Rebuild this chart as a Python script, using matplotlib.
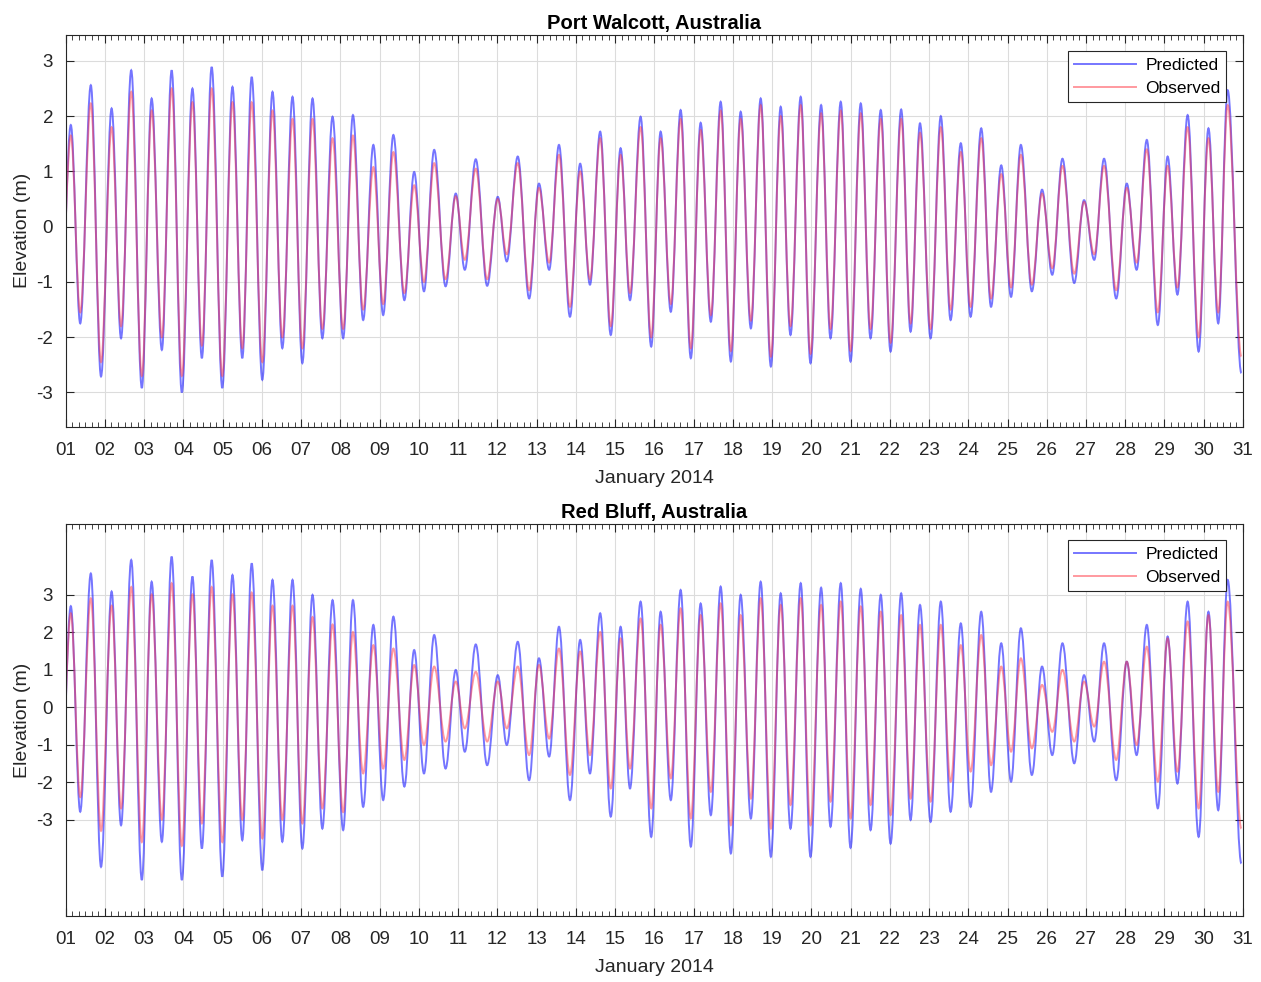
import datetime
import numpy as np
import matplotlib
matplotlib.use("Agg")
from matplotlib import pyplot as plt
import matplotlib.dates as mdates
from matplotlib.path import Path
from matplotlib.patches import PathPatch
from matplotlib.lines import Line2D

plt.rcParams['font.family'] = ['Liberation Sans', 'DejaVu Sans']
plt.rcParams['axes.unicode_minus'] = False

# times of high / low water, days after 2014-01-01 00:00
peak_times = [-0.12, 0.13, 0.37, 0.64, 0.90, 1.17, 1.41, 1.67, 1.94, 2.19, 2.45,
              2.70, 2.96, 3.23, 3.47, 3.72, 3.99, 4.25, 4.50, 4.74, 5.01,
              5.27, 5.52, 5.78, 6.03, 6.29, 6.54, 6.80, 7.07, 7.32, 7.58,
              7.84, 8.09, 8.35, 8.63, 8.88, 9.13, 9.39, 9.68, 9.94, 10.17,
              10.45, 10.74, 11.01, 11.24, 11.52, 11.81, 12.06, 12.32, 12.57, 12.85,
              13.11, 13.36, 13.62, 13.89, 14.14, 14.38, 14.65, 14.92, 15.16, 15.42,
              15.67, 15.93, 16.18, 16.44, 16.69, 16.95, 17.20, 17.46, 17.71, 17.97,
              18.22, 18.47, 18.73, 18.98, 19.25, 19.49, 19.75, 20.00, 20.26, 20.51,
              20.77, 21.02, 21.29, 21.53, 21.77, 22.04, 22.30, 22.55, 22.81, 23.06,
              23.33, 23.58, 23.84, 24.09, 24.34, 24.62, 24.88, 25.14, 25.40, 25.70,
              25.95, 26.21, 26.46, 26.77, 27.04, 27.29, 27.55, 27.83, 28.08, 28.33,
              28.59, 28.87, 29.12, 29.37, 29.61, 29.96]

# Port Walcott elevations (m) at those times
pw_pred = [-1.50, 1.84, -1.75, 2.56, -2.71, 2.14, -2.02, 2.83, -2.92, 2.32, -2.23,
           2.83, -3.00, 2.50, -2.38, 2.89, -2.92, 2.53, -2.38, 2.71, -2.77,
           2.44, -2.20, 2.35, -2.47, 2.32, -2.02, 1.99, -2.02, 2.02, -1.69,
           1.48, -1.60, 1.66, -1.33, 0.99, -1.17, 1.39, -1.08, 0.60, -0.78,
           1.22, -1.07, 0.54, -0.63, 1.27, -1.30, 0.78, -0.78, 1.48, -1.63,
           1.14, -1.05, 1.72, -1.96, 1.42, -1.33, 1.99, -2.17, 1.72, -1.54,
           2.11, -2.38, 1.88, -1.72, 2.26, -2.44, 2.08, -1.84, 2.32, -2.53,
           2.17, -1.96, 2.35, -2.47, 2.20, -2.02, 2.26, -2.44, 2.23, -2.02,
           2.11, -2.26, 2.12, -1.90, 1.87, -2.02, 2.00, -1.69, 1.51, -1.63,
           1.78, -1.45, 1.11, -1.27, 1.48, -1.17, 0.67, -0.87, 1.23, -1.02,
           0.48, -0.60, 1.23, -1.30, 0.78, -0.78, 1.57, -1.78, 1.27, -1.23,
           2.02, -2.26, 1.78, -1.75, 2.47, -2.65]
pw_obs = [-1.30, 1.65, -1.55, 2.23, -2.45, 1.80, -1.80, 2.44, -2.70, 2.10, -2.00,
          2.50, -2.70, 2.25, -2.15, 2.50, -2.70, 2.25, -2.20, 2.25, -2.45,
          2.10, -2.00, 1.95, -2.20, 1.95, -1.85, 1.60, -1.85, 1.65, -1.50,
          1.08, -1.40, 1.35, -1.20, 0.75, -1.00, 1.15, -0.95, 0.55, -0.60,
          1.05, -0.95, 0.50, -0.50, 1.15, -1.15, 0.70, -0.65, 1.30, -1.45,
          1.00, -0.95, 1.60, -1.80, 1.30, -1.20, 1.80, -2.00, 1.60, -1.40,
          1.95, -2.20, 1.75, -1.60, 2.10, -2.25, 1.95, -1.70, 2.20, -2.35,
          2.00, -1.80, 2.20, -2.30, 2.05, -1.85, 2.10, -2.25, 2.05, -1.85,
          1.95, -2.10, 1.95, -1.75, 1.70, -1.85, 1.80, -1.50, 1.35, -1.45,
          1.60, -1.30, 0.95, -1.10, 1.30, -1.05, 0.60, -0.75, 1.10, -0.85,
          0.45, -0.50, 1.10, -1.15, 0.70, -0.65, 1.40, -1.55, 1.10, -1.10,
          1.80, -2.00, 1.60, -1.55, 2.20, -2.35]

# Red Bluff elevations (m)
rb_pred = [-2.30, 2.69, -2.79, 3.56, -4.26, 3.08, -3.15, 3.92, -4.61, 3.34, -3.59,
           4.01, -4.61, 3.48, -3.77, 3.92, -4.52, 3.52, -3.55, 3.83, -4.35,
           3.39, -3.59, 3.39, -3.77, 2.99, -3.24, 2.85, -3.28, 2.85, -2.66,
           2.19, -2.48, 2.41, -2.12, 1.52, -1.77, 1.92, -1.64, 0.99, -1.19,
           1.67, -1.55, 0.85, -1.01, 1.74, -1.95, 1.30, -1.32, 2.14, -2.48,
           1.79, -1.77, 2.50, -2.92, 2.14, -2.17, 2.81, -3.46, 2.54, -2.48,
           3.12, -3.72, 2.76, -2.88, 3.21, -3.90, 2.99, -2.97, 3.34, -3.99,
           3.03, -3.24, 3.30, -3.99, 3.18, -3.19, 3.30, -3.75, 3.15, -3.28,
           2.99, -3.64, 3.03, -3.01, 2.72, -3.06, 2.81, -2.79, 2.23, -2.66,
           2.54, -2.26, 1.70, -1.99, 2.10, -1.81, 1.08, -1.28, 1.70, -1.50,
           0.85, -0.92, 1.70, -1.95, 1.21, -1.28, 2.19, -2.70, 1.88, -2.04,
           2.81, -3.46, 2.54, -2.75, 3.39, -4.17]
rb_obs = [-2.00, 2.50, -2.40, 2.90, -3.30, 2.70, -2.70, 3.20, -3.60, 3.00, -3.00,
          3.30, -3.70, 3.00, -3.10, 3.20, -3.60, 3.00, -3.00, 3.05, -3.50,
          2.70, -3.00, 2.70, -3.10, 2.40, -2.70, 2.20, -2.80, 2.00, -1.77,
          1.65, -1.64, 1.56, -1.41, 1.12, -1.01, 1.08, -0.92, 0.68, -0.57,
          0.94, -0.92, 0.68, -0.57, 1.08, -1.28, 1.12, -0.84, 1.56, -1.81,
          1.48, -1.28, 2.00, -2.17, 1.83, -1.64, 2.36, -2.70, 2.19, -1.90,
          2.63, -2.97, 2.45, -2.26, 2.76, -3.15, 2.45, -2.44, 2.90, -3.24,
          2.72, -2.61, 2.90, -3.15, 2.72, -2.52, 2.81, -2.97, 2.68, -2.61,
          2.54, -2.88, 2.45, -2.44, 2.19, -2.52, 2.19, -1.99, 1.65, -1.72,
          1.92, -1.55, 1.08, -1.19, 1.30, -1.10, 0.59, -0.66, 0.99, -0.92,
          0.68, -0.52, 1.21, -1.41, 1.21, -1.01, 1.61, -1.99, 1.83, -1.72,
          2.28, -2.70, 2.45, -2.26, 2.81, -3.24]

stations = ["Port Walcott, Australia", "Red Bluff, Australia"]
y_limits = [(-3.62, 3.47), (-5.57, 4.88)]

start = mdates.date2num(datetime.datetime(2014, 1, 1))
end = mdates.date2num(datetime.datetime(2014, 1, 31))


def tide_path(t, h, k=0.36):
    # smooth curve through successive high/low waters, flat at each turn
    x = np.asarray(t) + start
    verts = [(x[0], h[0])]
    codes = [Path.MOVETO]
    for i in range(1, len(x)):
        dt = x[i] - x[i - 1]
        verts += [(x[i - 1] + k * dt, h[i - 1]), (x[i] - k * dt, h[i]), (x[i], h[i])]
        codes += [Path.CURVE4] * 3
    return Path(verts, codes)


fig = plt.figure(figsize=(12.61, 9.82), dpi=100)
axes = [fig.add_axes([0.0521, 0.5655, 0.9336, 0.3989]),
        fig.add_axes([0.0521, 0.0672, 0.9336, 0.3992])]

txt = '#262626'
blue = (0.1, 0.1, 1, 0.6)
red = (1, 0.2, 0.25, 0.5)
for ax, name, ylim, pred, obs in zip(axes, stations, y_limits,
                                     [pw_pred, rb_pred], [pw_obs, rb_obs]):
    ax.add_patch(PathPatch(tide_path(peak_times, pred), fill=False,
                           edgecolor=blue, lw=1.4))
    ax.add_patch(PathPatch(tide_path(peak_times, obs), fill=False,
                           edgecolor=red, lw=1.4))
    ax.set_xlim(start, end)
    ax.set_ylim(*ylim)
    ax.set_yticks([-3, -2, -1, 0, 1, 2, 3])
    ax.xaxis.set_major_locator(mdates.DayLocator())
    ax.xaxis.set_major_formatter(mdates.DateFormatter('%d'))
    ax.xaxis.set_minor_locator(mdates.HourLocator(byhour=range(0, 24, 4)))
    ax.tick_params(which='both', direction='in', top=True, right=True,
                   colors=txt, labelsize=13.5)
    ax.tick_params(axis='x', which='major', pad=11)
    ax.tick_params(axis='y', which='major', pad=9)
    ax.tick_params(which='major', length=6, width=0.8)
    ax.tick_params(which='minor', length=3.5, width=0.6)
    ax.grid(True, color='#dcdcdc', lw=0.8)
    ax.set_axisbelow(True)
    for s in ax.spines.values():
        s.set_color(txt)
        s.set_linewidth(0.8)
    ax.set_title(name, fontsize=14.5, fontweight='bold', color='black', pad=4)
    ax.set_xlabel("January 2014", fontsize=14, color=txt, labelpad=8)
    ax.set_ylabel("Elevation (m)", fontsize=14, color=txt, labelpad=4)
    handles = [Line2D([], [], color=blue, lw=1.4),
               Line2D([], [], color=red, lw=1.4)]
    leg = ax.legend(handles, ["Predicted", "Observed"], loc='upper right',
                    fontsize=12.5, fancybox=False, framealpha=1, edgecolor=txt,
                    borderpad=0.35, handlelength=3.6, handletextpad=0.5,
                    labelspacing=0.45, borderaxespad=0.95)
    leg.get_frame().set_linewidth(0.8)

fig.savefig("out.png", dpi=100)
